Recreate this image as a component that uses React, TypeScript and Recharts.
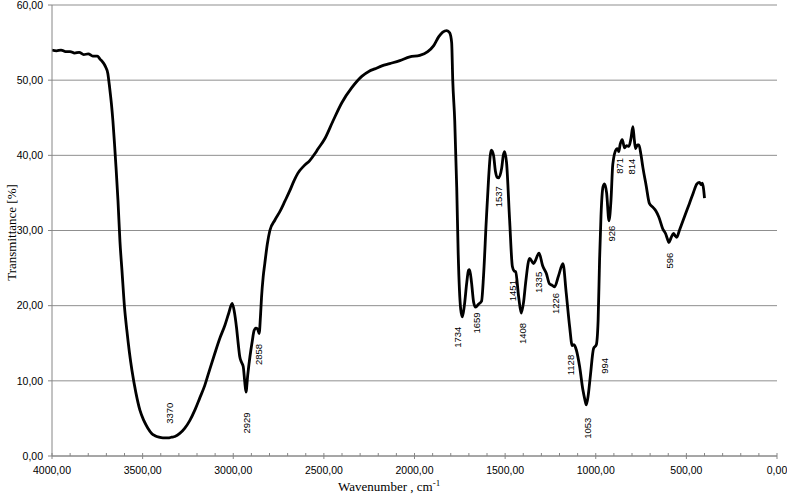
import {
  ComposedChart,
  Line,
  Scatter,
  XAxis,
  YAxis,
  CartesianGrid,
} from "recharts";

// FTIR spectrum
const wavenumbers = [
  4000, 3975, 3950, 3925, 3900, 3875, 3850, 3825, 3800, 3775, 3750, 3735, 3720, 3705, 3692, 3682,
  3672, 3664, 3655, 3647, 3636, 3625, 3614, 3600, 3587, 3573, 3559, 3537, 3515, 3493, 3471, 3450,
  3432, 3410, 3388, 3360, 3340, 3322, 3295, 3267, 3240, 3212, 3185, 3157, 3130, 3101, 3075, 3046,
  3025, 3006, 2994, 2982, 2972, 2964, 2955, 2945, 2937, 2930, 2920, 2908, 2895, 2885, 2875, 2866,
  2857, 2850, 2844, 2835, 2826, 2812, 2798, 2770, 2743, 2715, 2688, 2665, 2644, 2610, 2578, 2550,
  2534, 2495, 2451, 2401, 2346, 2291, 2250, 2219, 2180, 2137, 2081, 2026, 1971, 1927, 1894, 1866,
  1844, 1822, 1806, 1795, 1789, 1778, 1767, 1759, 1745, 1736, 1725, 1712, 1702, 1696, 1685, 1674,
  1663, 1647, 1630, 1619, 1604, 1591, 1582, 1576, 1564, 1553, 1545, 1536, 1519, 1510, 1503, 1492,
  1475, 1460, 1450, 1442, 1425, 1411, 1398, 1387, 1365, 1343, 1333, 1313, 1293, 1273, 1255, 1240,
  1227, 1205, 1181, 1163, 1144, 1130, 1120, 1107, 1089, 1071, 1060, 1052, 1042, 1030, 1012, 997,
  987, 979, 971, 960, 951, 940, 927, 916, 906, 887, 880, 873, 865, 854, 841, 830,
  817, 806, 795, 787, 780, 770, 762, 750, 740, 722, 704, 685, 668, 652, 630, 615,
  605, 597, 585, 571, 562, 553, 540, 528, 505, 483, 462, 442, 428, 418, 412, 405,
  400,
];

const transmittance = [
  54.0, 53.9, 54.0, 53.8, 53.8, 53.6, 53.7, 53.4, 53.5, 53.2, 53.2, 52.8, 52.4, 51.8, 50.9, 49.0,
  46.8, 44.6, 41.5, 38.5, 34.0, 28.5, 24.7, 19.8, 16.7, 13.8, 11.4, 8.4, 6.1, 4.7, 3.7, 3.0,
  2.7, 2.5, 2.4, 2.4, 2.5, 2.6, 3.0, 3.7, 4.7, 6.1, 7.7, 9.4, 11.5, 13.7, 15.6, 17.4,
  19.0, 20.3, 19.2, 17.1, 14.8, 13.2, 12.5, 11.9, 10.0, 8.5, 10.8, 13.2, 15.3, 16.7, 17.0, 16.9,
  16.3, 18.5, 21.1, 23.8, 25.6, 28.2, 30.0, 31.4, 32.5, 33.9, 35.3, 36.6, 37.6, 38.6, 39.3, 40.2,
  40.8, 42.2, 44.5, 47.0, 49.0, 50.5, 51.2, 51.5, 51.9, 52.2, 52.6, 53.1, 53.3, 53.8, 54.6, 55.8,
  56.4, 56.6, 56.3, 55.0, 50.0, 44.6, 35.7, 27.0, 19.5, 18.5, 20.0, 23.0, 24.7, 24.8, 23.0, 20.5,
  19.8, 20.2, 20.6, 24.0, 31.3, 37.0, 40.0, 40.7, 40.0, 37.8, 37.1, 37.0, 38.3, 40.0, 40.5, 39.0,
  31.3, 25.2, 24.6, 24.5, 21.1, 19.0, 20.5, 23.0, 26.3, 25.6, 26.0, 27.0, 25.3, 24.3, 22.9, 22.7,
  22.5, 24.0, 25.6, 21.7, 17.2, 14.7, 14.8, 14.1, 11.9, 8.8, 7.5, 6.8, 8.0, 10.6, 14.3, 14.8,
  18.0, 26.0, 32.0, 35.8, 36.2, 35.0, 31.3, 34.0, 38.8, 40.8, 40.9, 40.5, 41.5, 42.1, 41.0, 41.3,
  41.2, 42.2, 43.8, 42.0, 40.9, 41.4, 41.4, 40.0, 38.4, 36.0, 33.6, 33.1, 32.6, 31.8, 30.2, 29.6,
  28.9, 28.4, 29.0, 29.6, 29.3, 29.1, 29.9, 30.7, 32.2, 33.6, 35.0, 36.2, 36.4, 36.1, 36.3, 35.5,
  34.3,
];

// peak annotations: text, and where its centre sits (wavenumber, %T)
const peakLabels = ["3370", "2929", "2858", "1734", "1659", "1537", "1451", "1408", "1335", "1226", "1128", "1053", "994", "926", "871", "814", "596"];
const peakAtX = [3350, 2925, 2858, 1765, 1659, 1534, 1458, 1405, 1315, 1222, 1140, 1045, 950, 915, 868, 804, 592];
const peakAtY = [5.7, 4.4, 13.5, 15.8, 17.7, 34.5, 22.0, 16.3, 23.1, 20.3, 12.1, 3.7, 12.0, 29.6, 38.6, 38.5, 26.0];

const xTicks = Array.from({ length: 41 }, (_, i) => 4000 - i * 100);
const yTicks = [0, 10, 20, 30, 40, 50, 60];

const spectrum = wavenumbers.map((wn, i) => ({ wn, t: transmittance[i] }));
const peaks = peakLabels.map((label, i) => ({ label, wn: peakAtX[i], t: peakAtY[i] }));

const AXIS = "#868686";
const GRID = "#8f8f8f";
const SANS = "'Liberation Sans', Arial, sans-serif";
const SERIF = "'Liberation Serif', 'Times New Roman', serif";

const fmt = (v: number) => v.toFixed(2).replace(".", ",");

function XTick(props: any) {
  const { x, y, payload } = props;
  const major = payload.value % 500 === 0;
  return (
    <g>
      <line x1={x} x2={x} y1={y - 3} y2={major ? y + 3 : y} stroke={AXIS} />
      {major && (
        <text x={x} y={y + 18} textAnchor="middle" fontSize={10.5} fontFamily={SANS} fill="#000">
          {fmt(payload.value)}
        </text>
      )}
    </g>
  );
}

function PeakLabel(props: any) {
  const { cx, cy, payload } = props;
  return (
    <text
      x={cx}
      y={cy}
      transform={`rotate(-90 ${cx} ${cy})`}
      textAnchor="middle"
      dominantBaseline="central"
      fontSize={9.5}
      fontFamily={SANS}
      fill="#000"
    >
      {payload.label}
    </text>
  );
}

export default function App() {
  return (
    <div style={{ position: "absolute", left: 0, top: 0, background: "#fff" }}>
      <ComposedChart width={787} height={495} margin={{ top: 5, right: 10, bottom: 0, left: 0 }}>
        <CartesianGrid vertical={false} stroke={GRID} />
        <XAxis
          type="number"
          dataKey="wn"
          domain={[0, 4000]}
          reversed
          ticks={xTicks}
          interval={0}
          height={39}
          tickSize={0}
          tickMargin={0}
          tickLine={false}
          axisLine={{ stroke: AXIS }}
          tick={<XTick />}
          allowDataOverflow
          label={{
            content: (p: any) => {
              const vb = p.viewBox;
              const cx = vb.x + vb.width * 0.465;
              return (
                <text x={cx} y={vb.y + 35} textAnchor="middle" fontSize={13} fontFamily={SERIF} fill="#000">
                  Wavenumber , cm
                  <tspan fontSize={9} dy={-5}>-1</tspan>
                </text>
              );
            },
          }}
        />
        <YAxis
          type="number"
          domain={[0, 60]}
          ticks={yTicks}
          width={52}
          tickSize={4}
          tickMargin={5}
          tickLine={{ stroke: AXIS }}
          axisLine={{ stroke: AXIS }}
          tickFormatter={fmt}
          tick={{ fontSize: 10.5, fontFamily: SANS, fill: "#000" }}
          label={{
            content: (p: any) => {
              const vb = p.viewBox;
              const cy = vb.y + vb.height / 2 + 2;
              return (
                <text
                  x={11}
                  y={cy}
                  transform={`rotate(-90 11 ${cy})`}
                  textAnchor="middle"
                  dominantBaseline="central"
                  fontSize={13}
                  fontFamily={SERIF}
                  fill="#000"
                >
                  Transmittance [%]
                </text>
              );
            },
          }}
        />
        <Line
          data={spectrum}
          dataKey="t"
          type="monotone"
          stroke="#000"
          strokeWidth={2.8}
          dot={false}
          activeDot={false}
          isAnimationActive={false}
        />
        <Scatter data={peaks} dataKey="t" shape={<PeakLabel />} isAnimationActive={false} />
      </ComposedChart>
    </div>
  );
}
